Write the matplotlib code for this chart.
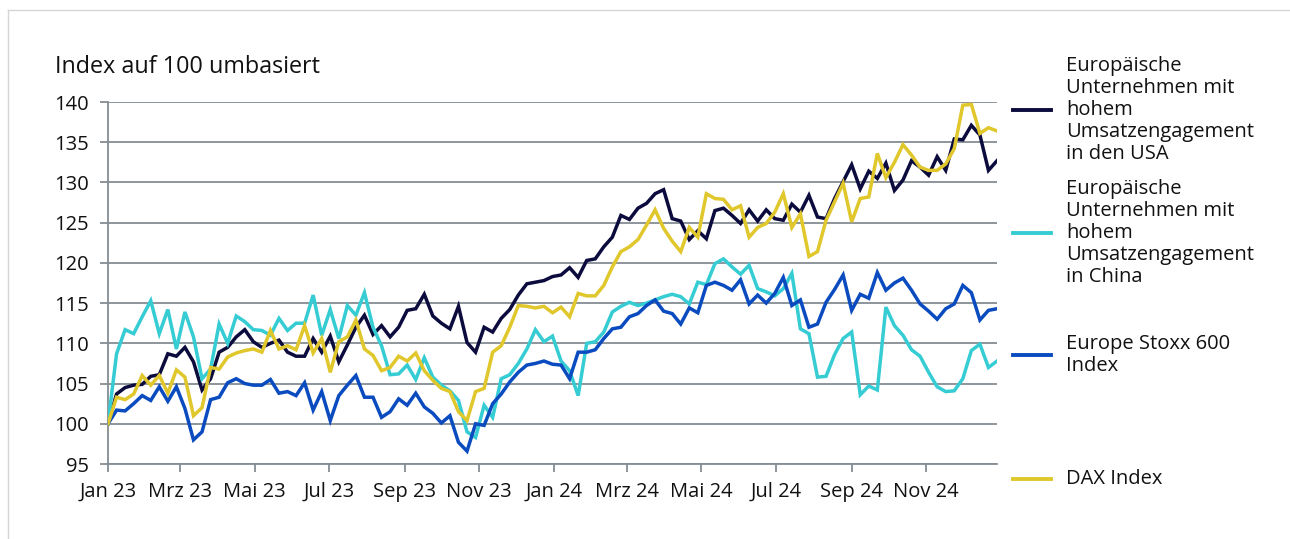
import numpy as np
import pandas as pd
import matplotlib
matplotlib.use("Agg")
import matplotlib.pyplot as plt
from matplotlib.lines import Line2D

plt.rcParams['font.family'] = ['Open Sans', 'DejaVu Sans']

dates = pd.date_range("2023-01-01", periods=105, freq="7D")

usa = [100, 103.7, 104.5, 104.8, 104.9, 105.9, 106.1, 108.7, 108.4, 109.5,
       107.7, 104.2, 105.6, 108.9, 109.5, 110.8, 111.7, 110.2, 109.5, 110,
       110.4, 108.9, 108.4, 108.4, 110.6, 108.9, 110.9, 107.7, 109.8, 112,
       113.5, 111.1, 112.2, 110.8, 112, 114.1, 114.3, 116.1, 113.4, 112.5,
       111.8, 114.6, 110.1, 108.9, 112, 111.4, 113.1, 114.2, 116, 117.4,
       117.6, 117.8, 118.3, 118.5, 119.4, 118.2, 120.3, 120.5, 122, 123.2,
       125.9, 125.4, 126.8, 127.4, 128.6, 129.1, 125.5, 125.2, 122.9, 124,
       123, 126.5, 126.8, 125.9, 124.9, 126.6, 125.2, 126.6, 125.5, 125.3,
       127.3, 126.3, 128.4, 125.7, 125.5, 128, 130.1, 132.2, 129.2, 131.4,
       130.5, 132.4, 129, 130.3, 132.7, 131.9, 130.9, 133.2, 131.5, 135.4,
       135.3, 137.1, 135.9, 131.5, 132.7]

china = [100, 108.7, 111.7, 111.2, 113.3, 115.3, 111.2, 114.2, 109.3, 113.9,
         110.8, 105.6, 106.8, 112.4, 110, 113.4, 112.7, 111.7, 111.6, 111,
         113.1, 111.6, 112.5, 112.5, 116, 111, 114.2, 110.6, 114.7, 113.5,
         116.3, 112, 109.7, 106.1, 106.2, 107.3, 105.5, 108.2, 105.8, 104.8,
         104.1, 102.9, 99, 98.3, 102.3, 100.8, 105.6, 106.1, 107.5, 109.3,
         111.7, 110.2, 110.9, 107.8, 106.6, 103.5, 110, 110.2, 111.4, 113.9,
         114.6, 115.1, 114.7, 115, 115.4, 115.8, 116.1, 115.8, 114.9, 117.6,
         117.3, 119.9, 120.5, 119.5, 118.6, 119.7, 116.8, 116.4, 115.9, 116.8,
         118.7, 111.8, 111.2, 105.8, 105.9, 108.6, 110.6, 111.4, 103.6, 104.7,
         104.2, 114.5, 112.2, 111, 109.2, 108.4, 106.4, 104.6, 104, 104.1,
         105.6, 109.1, 109.9, 107, 107.8]

stoxx = [100, 101.7, 101.6, 102.5, 103.5, 102.9, 104.6, 102.8, 104.6, 101.9,
         98, 99, 103, 103.3, 105.1, 105.6, 105, 104.8, 104.8, 105.5,
         103.8, 104, 103.5, 105.1, 101.7, 104, 100.4, 103.5, 104.8, 106,
         103.3, 103.3, 100.8, 101.5, 103.1, 102.3, 103.8, 102.1, 101.3, 100.1,
         101, 97.7, 96.6, 100, 99.8, 102.5, 103.7, 105.2, 106.4, 107.3,
         107.5, 107.8, 107.4, 107.3, 105.6, 108.9, 108.9, 109.2, 110.6, 111.8,
         112, 113.3, 113.7, 114.7, 115.4, 114, 113.7, 112.4, 114.4, 113.8,
         117.2, 117.6, 117.2, 116.6, 117.9, 114.9, 116, 115, 116.2, 118.2,
         114.7, 115.4, 112, 112.4, 115.1, 116.7, 118.5, 114.1, 116.1, 115.6,
         118.8, 116.6, 117.5, 118.1, 116.6, 114.9, 114, 113, 114.3, 114.9,
         117.2, 116.3, 112.9, 114.1, 114.3]

dax = [100, 103.3, 103, 103.7, 106, 104.8, 106, 103.8, 106.7, 105.8,
       101, 102, 107, 106.8, 108.3, 108.8, 109.1, 109.3, 108.9, 111.6,
       109.3, 109.7, 109.2, 112.2, 108.8, 110.6, 106.4, 110.2, 110.8, 112.9,
       109.3, 108.5, 106.6, 107, 108.4, 107.8, 108.8, 106.6, 105.4, 104.4,
       104, 101.5, 100.4, 104, 104.4, 108.9, 109.7, 112, 114.7, 114.6,
       114.4, 114.6, 113.8, 114.5, 113.3, 116.2, 115.9, 115.9, 117.2, 119.5,
       121.4, 122, 122.9, 124.7, 126.6, 124.3, 122.7, 121.4, 124.4, 123.2,
       128.6, 128, 127.9, 126.6, 127.1, 123.2, 124.4, 124.9, 126.3, 128.6,
       124.4, 126.1, 120.8, 121.4, 125.3, 127.6, 129.9, 125.1, 128, 128.2,
       133.6, 130.6, 132.5, 134.7, 133.4, 131.9, 131.5, 131.5, 132.3, 134.2,
       139.6, 139.7, 136.1, 136.8, 136.4]

series_labels = [
    "Europäische\nUnternehmen mit\nhohem\nUmsatzengagement\nin den USA",
    "Europäische\nUnternehmen mit\nhohem\nUmsatzengagement\nin China",
    "Europe Stoxx 600\nIndex",
    "DAX Index",
]
colors = ['#0c0b3d', '#35ccd3', '#0a4bbf', '#e0c72c']

tick_dates = pd.to_datetime(["2023-01-01", "2023-03-01", "2023-05-01", "2023-07-01",
                             "2023-09-01", "2023-11-01", "2024-01-01", "2024-03-01",
                             "2024-05-01", "2024-07-01", "2024-09-01", "2024-11-01"])
tick_labels = ["Jan 23", "Mrz 23", "Mai 23", "Jul 23", "Sep 23", "Nov 23",
               "Jan 24", "Mrz 24", "Mai 24", "Jul 24", "Sep 24", "Nov 24"]
yticks = [95, 100, 105, 110, 115, 120, 125, 130, 135, 140]

W, H = 1290, 539
fig = plt.figure(figsize=(W / 100, H / 100), dpi=100)
ax = fig.add_axes([108 / W, 1 - 464 / H, (997 - 108) / W, (464 - 102) / H])

grid_c = '#858c93'
for s, c in zip([usa, china, stoxx, dax], colors):
    ax.plot(dates, s, color=c, lw=2.5, solid_joinstyle='miter', zorder=3)

ax.set_xlim(dates[0], dates[-1])
ax.set_ylim(95, 140)
ax.set_yticks(yticks)
ax.set_xticks(tick_dates)
ax.set_xticklabels(tick_labels)
ax.yaxis.grid(True, color=grid_c, lw=1.3)
ax.set_axisbelow(True)
for sp in ['top', 'right']:
    ax.spines[sp].set_visible(False)
for sp in ['left', 'bottom']:
    ax.spines[sp].set_color(grid_c)
    ax.spines[sp].set_linewidth(1.3)
ax.tick_params(axis='both', colors=grid_c, labelcolor='#111111', labelsize=14.5,
               length=6, width=1.3)
ax.tick_params(axis='y', pad=8)
ax.tick_params(axis='x', pad=7)

fig.text(55 / W, 1 - 67 / H, "Index auf 100 umbasiert", fontsize=16.8, color='#111111',
         ha='left', va='center')

legend_y = [110, 233, 355, 479]
for lab, c, yy in zip(series_labels, colors, legend_y):
    fig.add_artist(Line2D([1013 / W, 1051 / W], [1 - yy / H, 1 - yy / H], color=c, lw=2.8,
                          transform=fig.transFigure))
    fig.text(1066 / W, 1 - yy / H, lab, fontsize=14.5, color='#111111', ha='left',
             va='center', linespacing=1.12)

# light frame lines
fig.add_artist(Line2D([8 / W, 8 / W], [0, 1 - 10 / H], color='#d6d6d6', lw=1,
                      transform=fig.transFigure))
fig.add_artist(Line2D([8 / W, 1], [1 - 10 / H, 1 - 10 / H], color='#d6d6d6', lw=1,
                      transform=fig.transFigure))

fig.savefig("out.png", dpi=100)
